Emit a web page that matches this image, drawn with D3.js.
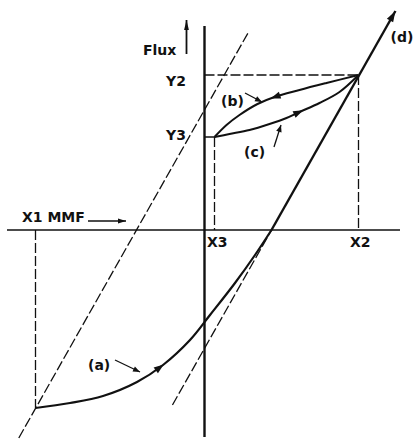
<!DOCTYPE html>
<html><head><meta charset="utf-8">
<script src="https://cdn.jsdelivr.net/npm/d3@7"></script>
<style>
html,body{margin:0;padding:0;background:#fff;}
svg{display:block;}
text{font-family:"DejaVu Sans",sans-serif;font-weight:bold;font-size:14px;fill:#111;}
</style></head><body>
<svg id="chart" width="415" height="439"></svg>
<script>
// Magnetisation characteristic: MMF (horizontal) against flux (vertical), arbitrary units
const mmfRange = [-19.75, 19.55];
const fluxRange = [-20.7, 20.4];

// operating points
const X1 = -16.9, Y1 = -17.8;
const X2 = 15.4,  Y2 = 15.5;
const X3 = 1.0,   Y3 = 9.3;

// straight characteristic (d): slope and MMF at zero flux
const slopeD = 1.767, mmfZeroD = 6.7;
const fluxTopD = 21.9, fluxLowD = -17.5;

// parallel dashed line through X1
const mmfZeroLeft = -6.8;
const fluxLeft = [-20.8, 19.7];

// initial curve (a), from X1 up to the straight line
const curveA = [[-16.9,-17.8],[-13.45,-17.3],[-10.15,-16.6],[-6.75,-15.2],[-4.15,-13.5],
                [-1.45,-11.0],[0.55,-8.5],[3.05,-5.3],[5.05,-2.5],[6.7,0]];
// return branch (b), X2 -> X3
const curveB = [[15.4,15.5],[12.2,14.7],[9.5,14.0],[7.0,13.3],[5.3,12.6],[3.5,11.5],[2.2,10.5],[1.0,9.3]];
// rising branch (c), X3 -> X2
const curveC = [[1.0,9.3],[2.5,9.6],[4.5,10.0],[6.5,10.6],[8.2,11.2],[9.5,11.8],[11.5,12.7],[13.5,13.8],[15.4,15.5]];

// labels: text, MMF, flux (baseline start)
const labels = [
  ["Flux",  -6.15, 17.5],
  ["Y2",    -3.85, 14.4],
  ["Y3",    -3.85,  9.0],
  ["X1 MMF",-18.25, 0.8],
  ["X3",     0.25, -1.7],
  ["X2",    14.55, -1.7],
  ["(a)",  -11.65,-14.0],
  ["(b)",    1.65, 12.4],
  ["(c)",    3.95,  7.3],
  ["(d)",   18.6,  18.8]
];
// leader arrows: from -> to
const leaders = [
  [[-8.95,-13.0],[-6.45,-14.2]],
  [[4.05,13.7],[5.75,12.8]],
  [[6.95,8.3],[7.65,10.5]]
];
// direction marks on the curves (approximate position on each curve)
const curveMarks = [["a",[-4.45,-13.6]],["b",[7.0,13.3]],["c",[9.5,11.8]]];

const svg = d3.select("#chart");
const x = d3.scaleLinear().domain([-20,20]).range([4.5,404.5]);
const y = d3.scaleLinear().domain([-21,21]).range([440,20]);
const ink = "#111";

const lineGen = d3.line().x(d=>x(d[0])).y(d=>y(d[1]));
const smooth = d3.line().x(d=>x(d[0])).y(d=>y(d[1])).curve(d3.curveCatmullRom.alpha(0.5));

function seg(p, q, w, dash){
  return svg.append("path").attr("d", lineGen([p,q]))
    .attr("stroke", ink).attr("stroke-width", w).attr("fill","none")
    .attr("stroke-dasharray", dash || null).attr("stroke-linecap","butt");
}
function head(tip, ang, L, w){
  const [tx,ty] = tip, c = Math.cos(ang), s = Math.sin(ang);
  const bx = tx - L*c, by = ty - L*s;
  svg.append("path")
    .attr("d", `M${tx},${ty}L${bx - w*s},${by + w*c}L${bx + w*s},${by - w*c}Z`)
    .attr("fill", ink);
}
function arrow(p, q, w, L, hw){
  seg(p, q, w);
  const a = [x(p[0]),y(p[1])], b = [x(q[0]),y(q[1])];
  head(b, Math.atan2(b[1]-a[1], b[0]-a[0]), L, hw);
}
const dLine = f => [mmfZeroD + f/slopeD, f];
const leftLine = f => [mmfZeroLeft + f/slopeD, f];

// construction lines (dashed)
const dash = "10,3";
seg(leftLine(fluxLeft[0]), leftLine(fluxLeft[1]), 1.3, dash);
seg(dLine(fluxLowD), dLine(0), 1.3, dash);
seg([0,Y2],[X2,Y2], 1.3, dash);
seg([X2,Y2],[X2,0], 1.3, dash);
seg([X3,Y3],[X3,0], 1.3, dash);
seg([X1,0],[X1,Y1], 1.3, dash);
seg([0,Y3],[X3,Y3], 1.5);

// axes
seg([mmfRange[0],0],[mmfRange[1],0], 1.6);
seg([0,fluxRange[0]],[0,fluxRange[1]], 2.4);

// curves
const paths = {};
paths.a = svg.append("path").attr("d", smooth(curveA)).attr("fill","none")
  .attr("stroke", ink).attr("stroke-width", 2.2);
paths.b = svg.append("path").attr("d", smooth(curveB)).attr("fill","none")
  .attr("stroke", ink).attr("stroke-width", 2);
paths.c = svg.append("path").attr("d", smooth(curveC)).attr("fill","none")
  .attr("stroke", ink).attr("stroke-width", 2);
// straight characteristic (d) with its arrow
arrow(dLine(0), dLine(fluxTopD), 2.4, 11, 3.6);

// direction marks along curves
curveMarks.forEach(([k, target]) => {
  const node = paths[k].node(), len = node.getTotalLength();
  const tx = x(target[0]), ty = y(target[1]);
  let best = 0, bd = Infinity;
  for (let s = 0; s <= len; s += 0.5){
    const p = node.getPointAtLength(s), d = (p.x-tx)**2 + (p.y-ty)**2;
    if (d < bd){ bd = d; best = s; }
  }
  const p0 = node.getPointAtLength(Math.max(0,best-2)), p1 = node.getPointAtLength(Math.min(len,best+2));
  const tip = node.getPointAtLength(Math.min(len, best+4));
  head([tip.x, tip.y], Math.atan2(p1.y-p0.y, p1.x-p0.x), 10, 3.6);
});

// leader arrows and axis arrows
leaders.forEach(([p,q]) => arrow(p, q, 1.3, 7, 2.8));
arrow([-1.8,17.6],[-1.8,21.0], 1.8, 10, 2.4);
arrow([-11.65,0.9],[-7.85,0.9], 1.3, 8, 2.4);

// text
svg.selectAll("text.lbl").data(labels).join("text").attr("class","lbl")
  .attr("x", d=>x(d[1])).attr("y", d=>y(d[2])).text(d=>d[0]);
</script>
</body></html>
